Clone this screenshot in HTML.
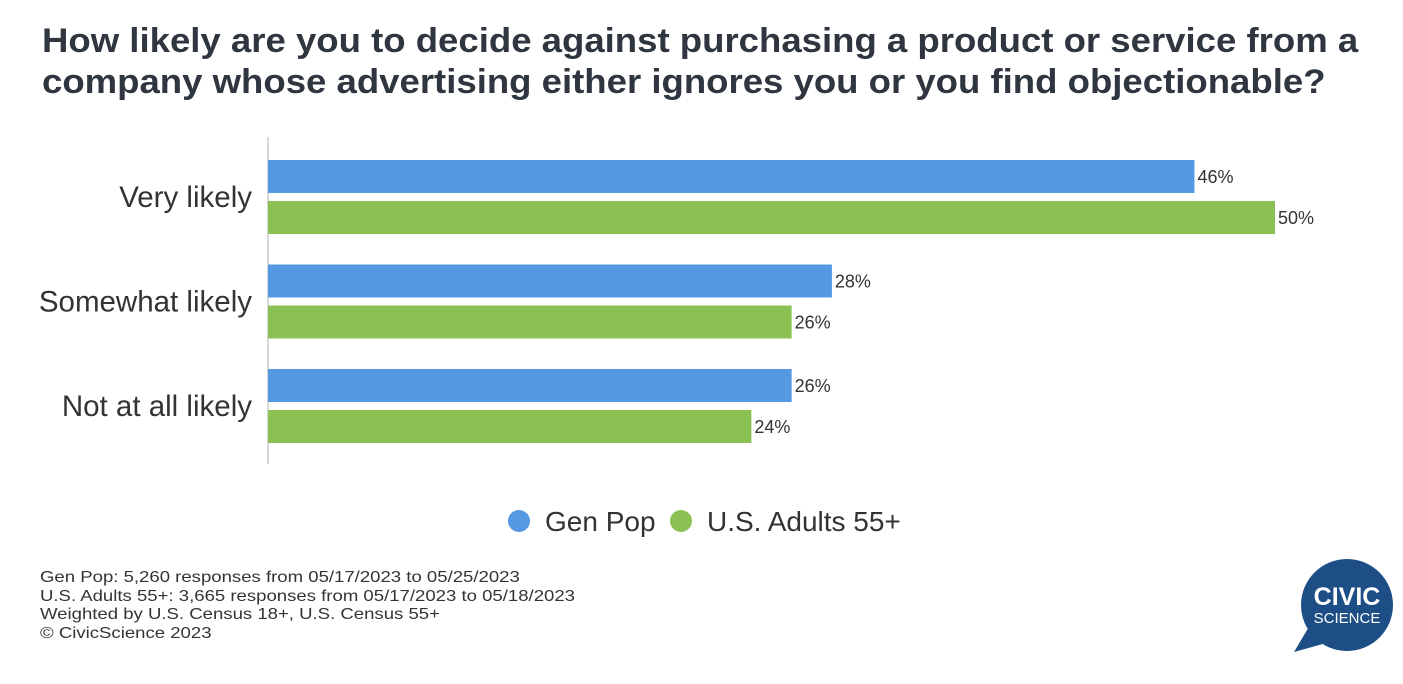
<!DOCTYPE html>
<html><head><meta charset="utf-8"><style>
body{margin:0;width:1403px;height:684px;background:#fff;font-family:"Liberation Sans",sans-serif;overflow:hidden;position:relative;color:#333}
.t{position:absolute;left:42px;top:21px;font-size:34px;font-weight:bold;line-height:41px;color:#2f3640;transform:scaleX(1.075);transform-origin:0 0;white-space:nowrap}
.f{position:absolute;left:40px;top:569px;font-size:16px;line-height:18.5px;color:#333;transform:scaleX(1.16);transform-origin:0 0;white-space:nowrap}
</style></head><body>
<div class="t">How likely are you to decide against purchasing a product or service from a<br>company whose advertising either ignores you or you find objectionable?</div>
<svg id="c" width="1403" height="684" style="position:absolute;left:0;top:0"></svg>
<div class="f">Gen Pop: 5,260 responses from 05/17/2023 to 05/25/2023<br>U.S. Adults 55+: 3,665 responses from 05/17/2023 to 05/18/2023<br>Weighted by U.S. Census 18+, U.S. Census 55+<br>© CivicScience 2023</div>
<svg width="120" height="110" style="position:absolute;left:1280px;top:550px">
<circle cx="67" cy="55" r="46" fill="#1d4f86"/><polygon points="30,75 14,102 50,92" fill="#1d4f86"/>
<text x="67" y="55" text-anchor="middle" fill="#fff" font-size="25" font-weight="bold" font-family="Liberation Sans">CIVIC</text>
<text x="67" y="73" text-anchor="middle" fill="#fff" font-size="15" font-family="Liberation Sans">SCIENCE</text>
</svg>
<script>
const categories=["Very likely","Somewhat likely","Not at all likely"];
const genPop=[46,28,26];
const adults55=[50,26,24];
const seriesNames=["Gen Pop","U.S. Adults 55+"];
const colors=["#5599e3","#8bc152"];
const svg=document.getElementById('c');const NS='http://www.w3.org/2000/svg';
const x0=268,scale=20.14;
const xs=v=>x0+v*scale;
function mk(t,a){const e=document.createElementNS(NS,t);for(const k in a)e.setAttribute(k,a[k]);svg.appendChild(e);return e;}
const ax=mk('line',{x1:268,y1:137,x2:268,y2:464,stroke:'#ccc','stroke-width':1.5});


categories.forEach((c,i)=>{
 const gy=160+i*104.5;
 const l=mk('text',{x:252,y:gy+47,'text-anchor':'end','font-size':29.5,fill:'#333'});l.textContent=c;
 
 
 [genPop,adults55].forEach((s,j)=>{
  const y=gy+j*41;
  const r=mk('rect',{x:x0,y:y,width:xs(s[i])-x0,height:33,fill:colors[j]});
  
  
  const t=mk('text',{x:xs(s[i])+3,y:y+23,'font-size':18,fill:'#333'});t.textContent=s[i]+'%';
  
  
 });
});
const lx=[519,681];
seriesNames.forEach((n,j)=>{
 const c=mk('circle',{cx:lx[j],cy:521,r:11,fill:colors[j]});
 
 
 const t=mk('text',{x:lx[j]+26,y:531,'font-size':28,fill:'#333'});t.textContent=n;
 
 
});
</script>
</body></html>
